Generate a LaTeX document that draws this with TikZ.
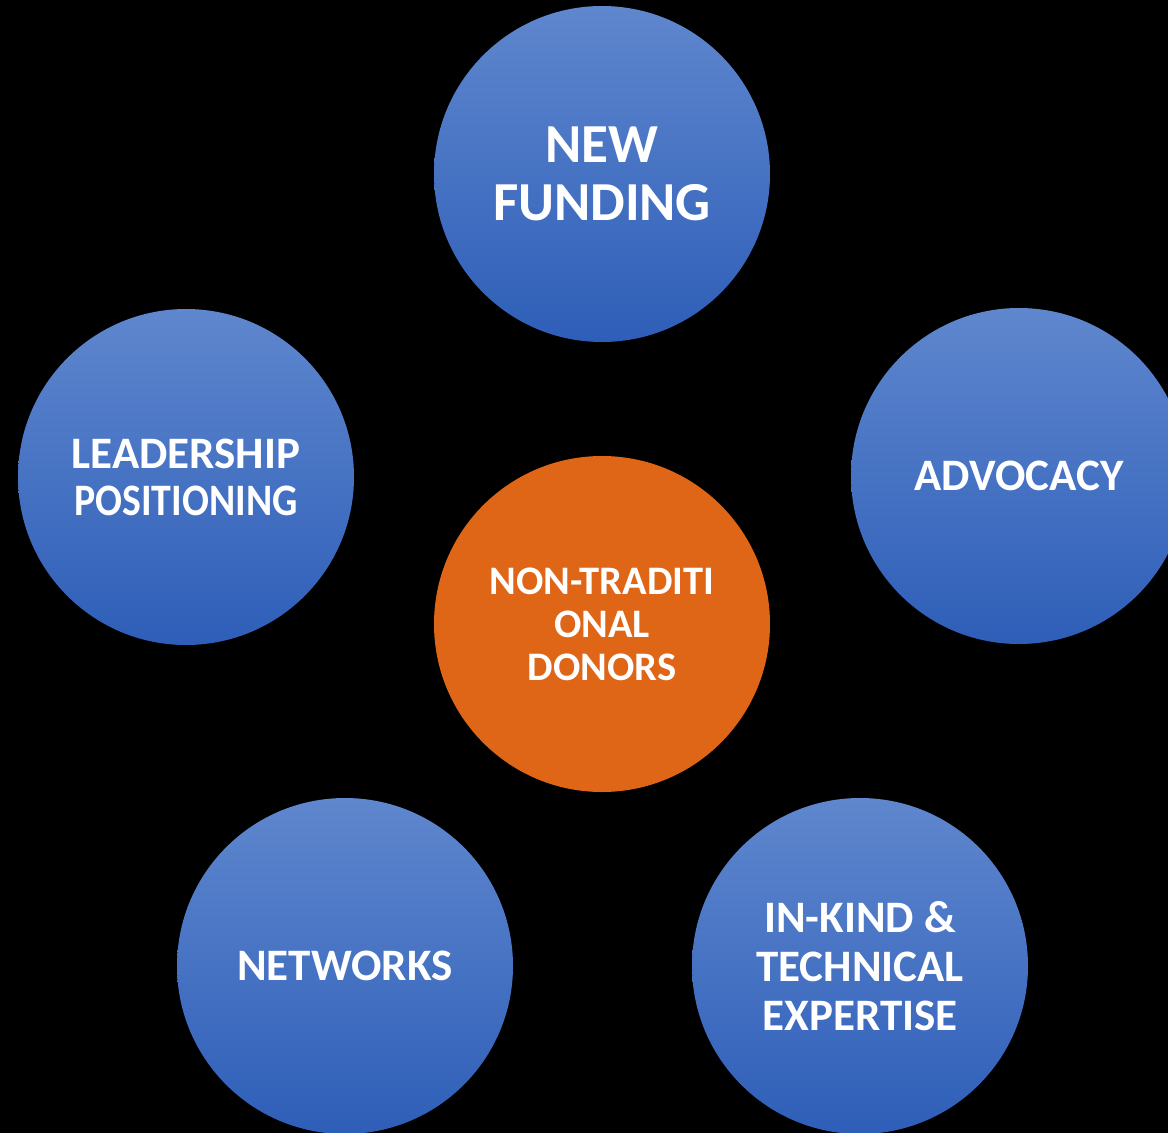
\documentclass[tikz,border=0pt]{standalone}
\usepackage{graphicx}
\usepackage{fontspec}
\setmainfont{Carlito}
\definecolor{bubbletop}{HTML}{5F87CE}
\definecolor{bubblebottom}{HTML}{2E5EB8}
\definecolor{hubfill}{HTML}{DF6616}

\begin{document}
\begin{tikzpicture}[
  x=1pt,
  y=-1pt,
  every node/.style={white, font=\bfseries},
  disc/.style={circle, minimum size=336pt, inner sep=0pt, align=center},
  bubble/.style={disc, top color=bubbletop, bottom color=bubblebottom},
  hub/.style={disc, fill=hubfill}
]
  % ---- black page ----
  \fill[black] (0,0) rectangle (1168,1133);
  \useasboundingbox (0,0) rectangle (1168,1133);

  % ---- centre ----
  \node[hub, font=\bfseries\fontsize{40.5}{43}\selectfont] (donors) at (602,624)
    {NON-TRADITI\\ONAL\\DONORS};

  % ---- five surrounding circles ----
  \node[bubble, font=\bfseries\fontsize{55}{58}\selectfont] (funding) at (602,174)
    {NEW\\FUNDING};
  \node[bubble, font=\bfseries\fontsize{45}{47}\selectfont] (leadership) at (186,477)
    {LEADERSHIP\\\scalebox{0.885}[1]{POSITIONING}};
  \node[bubble, font=\bfseries\fontsize{45}{50}\selectfont] (advocacy) at (1019,476)
    {ADVOCACY};
  \node[bubble, font=\bfseries\fontsize{45}{50}\selectfont] (networks) at (345,966)
    {NETWORKS};
  \node[bubble, font=\bfseries\fontsize{45}{49}\selectfont] (inkind) at (860,966)
    {IN-KIND \&\\TECHNICAL\\EXPERTISE};
\end{tikzpicture}
\end{document}
